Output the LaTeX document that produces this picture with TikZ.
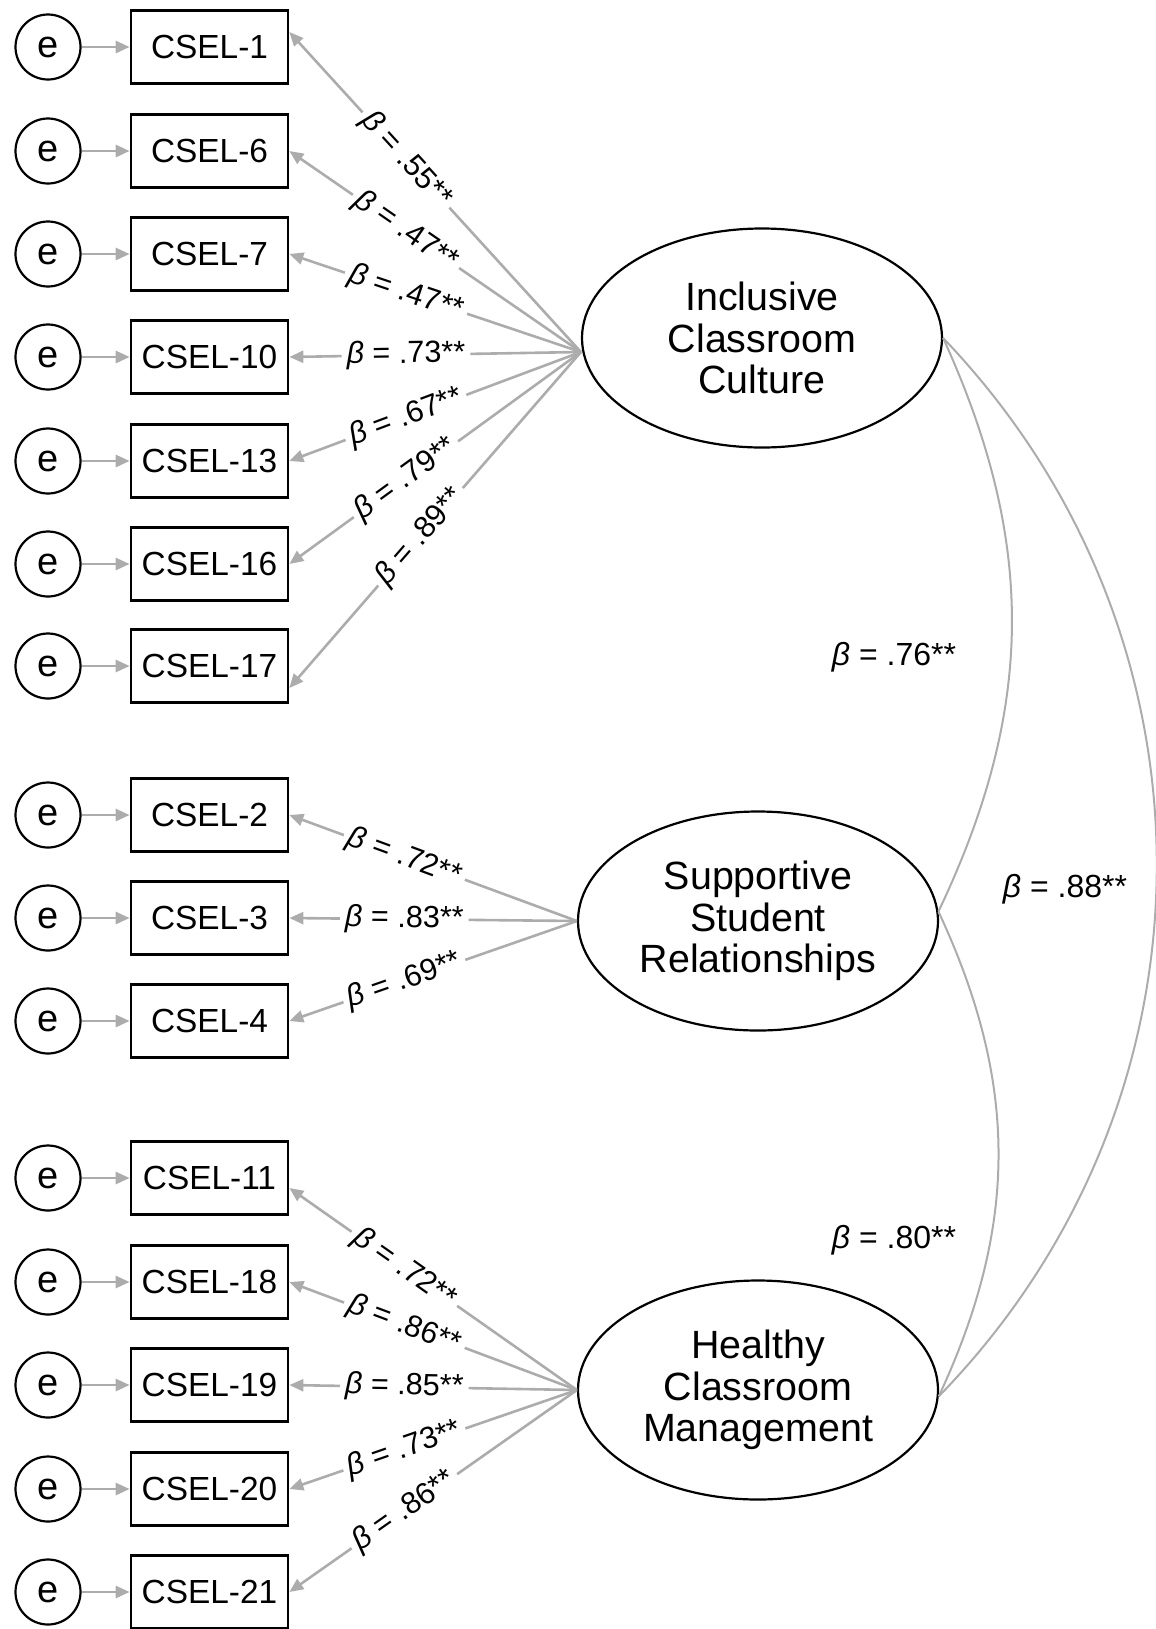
\documentclass[tikz,border=0pt]{standalone}
\usepackage{fontspec}
\setmainfont{Liberation Sans}
\usepackage{tikz}
\usetikzlibrary{arrows.meta,shapes.geometric}
\definecolor{pathgray}{RGB}{172,172,172}

\begin{document}
\begin{tikzpicture}[x=0.5pt,y=-0.5pt]
\tikzstyle{every node}+=[inner sep=0pt]
\tikzstyle{err}=[draw, circle, line width=1.1pt, minimum size=32.5pt, font=\fontsize{19}{20}\selectfont]
\tikzstyle{obs}=[draw, rectangle, line width=1.35pt, minimum width=78.5pt, minimum height=36.5pt, font=\fontsize{16.7}{18}\selectfont]
\tikzstyle{lat}=[draw, ellipse, line width=1.1pt, minimum width=180pt, minimum height=109.5pt, align=center, font=\fontsize{19.7}{20.75}\selectfont]
\tikzstyle{res}=[draw=pathgray, line width=1.4pt, -{Triangle[length=7pt,width=6pt]}]
\tikzstyle{load}=[draw=pathgray, line width=1.3pt, -{Triangle[length=7pt,width=6pt]}]
\tikzstyle{cov}=[draw=pathgray, line width=1pt]
\tikzstyle{coef}=[fill=white, sloped, inner sep=2.5pt, font=\fontsize{15.3}{16}\selectfont]
\tikzstyle{corr}=[font=\fontsize{16}{17}\selectfont]
\useasboundingbox (0,0) rectangle (1156,1629);

% factors
\node[lat] (icc) at (762,338) {Inclusive\\Classroom\\Culture};
\node[lat] (ssr) at (758,921) {Supportive\\Student\\Relationships};
\node[lat] (hcm) at (758,1390) {Healthy\\Classroom\\Management};
\coordinate (iccL) at ([yshift=-7pt]icc.west);

% items
\node[err] (e1) at (48,47) {e};
\node[obs] (c1) at (209.5,47) {CSEL-1};
\node[err] (e6) at (48,151) {e};
\node[obs] (c6) at (209.5,151) {CSEL-6};
\node[err] (e7) at (48,254) {e};
\node[obs] (c7) at (209.5,254) {CSEL-7};
\node[err] (e10) at (48,357) {e};
\node[obs] (c10) at (209.5,357) {CSEL-10};
\node[err] (e13) at (48,461) {e};
\node[obs] (c13) at (209.5,461) {CSEL-13};
\node[err] (e16) at (48,564) {e};
\node[obs] (c16) at (209.5,564) {CSEL-16};
\node[err] (e17) at (48,666) {e};
\node[obs] (c17) at (209.5,666) {CSEL-17};

\node[err] (e2) at (48,815) {e};
\node[obs] (c2) at (209.5,815) {CSEL-2};
\node[err] (e3) at (48,918) {e};
\node[obs] (c3) at (209.5,918) {CSEL-3};
\node[err] (e4) at (48,1021) {e};
\node[obs] (c4) at (209.5,1021) {CSEL-4};

\node[err] (e11) at (48,1178) {e};
\node[obs] (c11) at (209.5,1178) {CSEL-11};
\node[err] (e18) at (48,1282) {e};
\node[obs] (c18) at (209.5,1282) {CSEL-18};
\node[err] (e19) at (48,1385) {e};
\node[obs] (c19) at (209.5,1385) {CSEL-19};
\node[err] (e20) at (48,1489) {e};
\node[obs] (c20) at (209.5,1489) {CSEL-20};
\node[err] (e21) at (48,1592) {e};
\node[obs] (c21) at (209.5,1592) {CSEL-21};

% residuals
\draw[res] (e1) -- (c1);
\draw[res] (e6) -- (c6);
\draw[res] (e7) -- (c7);
\draw[res] (e10) -- (c10);
\draw[res] (e13) -- (c13);
\draw[res] (e16) -- (c16);
\draw[res] (e17) -- (c17);
\draw[res] (e2) -- (c2);
\draw[res] (e3) -- (c3);
\draw[res] (e4) -- (c4);
\draw[res] (e11) -- (c11);
\draw[res] (e18) -- (c18);
\draw[res] (e19) -- (c19);
\draw[res] (e20) -- (c20);
\draw[res] (e21) -- (c21);

% loadings
\draw[load] (iccL) -- node[coef,pos=.6] (b1) {\textit{β} = .55**} ([yshift=7.5pt]c1.east);
\draw[load] (iccL) -- node[coef,pos=.6] (b6) {\textit{β} = .47**} (c6.east);
\draw[load] (iccL) -- node[coef,pos=.6] (b7) {\textit{β} = .47**} (c7.east);
\draw[load] (iccL) -- node[coef,pos=.6] (b10) {\textit{β} = .73**} (c10.east);
\draw[load] (iccL) -- node[coef,pos=.6] (b13) {\textit{β} = .67**} (c13.east);
\draw[load] (iccL) -- node[coef,pos=.6] (b16) {\textit{β} = .79**} (c16.east);
\draw[load] (iccL) -- node[coef,pos=.55] (b17) {\textit{β} = .89**} ([yshift=-11pt]c17.east);

\draw[load] (ssr.west) -- node[coef,pos=.6] (b2) {\textit{β} = .72**} (c2.east);
\draw[load] (ssr.west) -- node[coef,pos=.6] (b3) {\textit{β} = .83**} (c3.east);
\draw[load] (ssr.west) -- node[coef,pos=.6] (b4) {\textit{β} = .69**} (c4.east);

\draw[load] (hcm.west) -- node[coef,pos=.6] (b11) {\textit{β} = .72**} ([yshift=-5pt]c11.east);
\draw[load] (hcm.west) -- node[coef,pos=.6] (b18) {\textit{β} = .86**} (c18.east);
\draw[load] (hcm.west) -- node[coef,pos=.6] (b19) {\textit{β} = .85**} (c19.east);
\draw[load] (hcm.west) -- node[coef,pos=.6] (b20) {\textit{β} = .73**} (c20.east);
\draw[load] (hcm.west) -- node[coef,pos=.6] (b21) {\textit{β} = .86**} (c21.east);

% correlations
\draw[cov] (icc.east) to[bend left=25] (ssr.3);
\draw[cov] (ssr.3) to[bend left=25] (hcm.-2);
\draw[cov] (icc.east) to[bend left=44] (hcm.-2);
\node[corr] (r1) at (894,657) {\textit{β} = .76**};
\node[corr] (r2) at (1065,889) {\textit{β} = .88**};
\node[corr] (r3) at (894,1240) {\textit{β} = .80**};
\end{tikzpicture}
\end{document}
